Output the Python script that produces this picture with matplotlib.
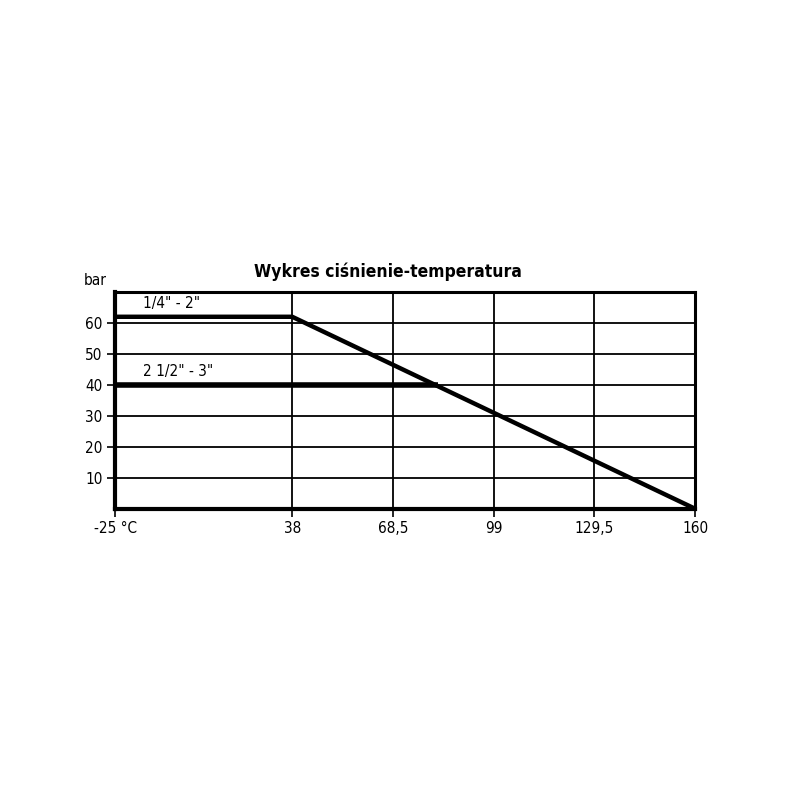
import numpy as np
import matplotlib.pyplot as plt

plt.rcParams['font.family'] = ['DejaVu Sans']
plt.rcParams['font.stretch'] = 'condensed'

# dane
x_ticks = [-25, 38, 68.5, 99, 129.5, 160]
x_tick_labels = ['-25 °C', '38', '68,5', '99', '129,5', '160']
y_ticks = [10, 20, 30, 40, 50, 60]

temp_small = [-25, 38, 160]      # 1/4" - 2"
press_small = [62, 62, 0]
temp_big = [-25, 82]             # 2 1/2" - 3"
press_big = [40, 40]

label_small = '1/4" - 2"'
label_big = '2 1/2" - 3"'


# skala osi x: odcinek -25..38 jest ściśnięty
def fwd(t):
    t = np.asarray(t, dtype=float)
    return np.where(t < 38, (t + 25) / 63 * 1.757, 1.757 + (t - 38) / 30.5)


def inv(u):
    u = np.asarray(u, dtype=float)
    return np.where(u < 1.757, u / 1.757 * 63 - 25, 38 + (u - 1.757) * 30.5)


fig = plt.figure(figsize=(8, 8), dpi=100)
ax = fig.add_axes([0.144, 0.364, 0.725, 0.271])
ax.set_xscale('function', functions=(fwd, inv))
ax.set_xlim(-25, 160)
ax.set_ylim(0, 70)

ax.set_xticks(x_ticks)
ax.set_xticklabels(x_tick_labels)
ax.set_yticks(y_ticks)
ax.tick_params(axis='both', direction='out', length=6, width=1.2,
               labelsize=11, pad=3)
ax.grid(True, color='black', linewidth=1.3)
ax.set_axisbelow(True)

for side in ['left', 'bottom']:
    ax.spines[side].set_linewidth(3)
for side in ['top', 'right']:
    ax.spines[side].set_linewidth(2.2)

ax.plot(temp_small, press_small, color='black', linewidth=3.2,
        solid_capstyle='butt', clip_on=False, zorder=3)
ax.plot(temp_big, press_big, color='black', linewidth=4,
        solid_capstyle='butt', zorder=3)

ax.text(-15, 64, label_small, fontsize=11, ha='left', va='bottom')
ax.text(-15, 42, label_big, fontsize=11, ha='left', va='bottom')

ax.text(-0.035, 1.02, 'bar', transform=ax.transAxes, fontsize=11,
        ha='center', va='bottom')
ax.set_title('Wykres ciśnienie-temperatura', fontsize=12.5, fontweight='bold',
             x=0.47, pad=11)

fig.savefig('out.png', dpi=100, facecolor='white')
